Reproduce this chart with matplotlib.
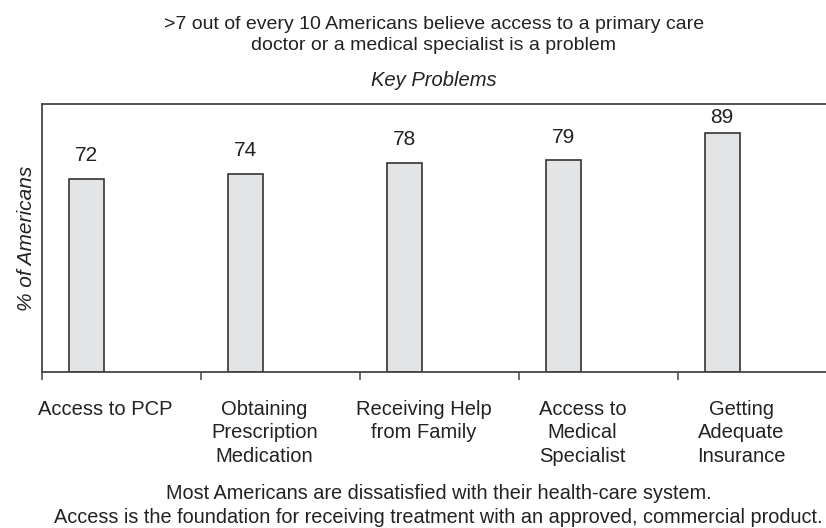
import matplotlib.pyplot as plt
import numpy as np

plt.rcParams['font.family'] = ['Liberation Sans', 'DejaVu Sans']

categories = ["Access to PCP", "Obtaining\nPrescription\nMedication", "Receiving Help\nfrom Family",
              "Access to\nMedical\nSpecialist", "Getting\nAdequate\nInsurance"]
values = [72, 74, 78, 79, 89]

title_lines = ">7 out of every 10 Americans believe access to a primary care\ndoctor or a medical specialist is a problem"
footnote = ("Most Americans are dissatisfied with their health-care system.\n"
            "Access is the foundation for receiving treatment with an approved, commercial product.")

txt = '#222222'
fig = plt.figure(figsize=(8.26, 5.28), dpi=100)
ax = fig.add_axes([42 / 826, (528 - 372) / 528, 795 / 826, 268 / 528])

x = np.arange(len(values))
ax.bar(x - 0.223, values, width=0.22, color='#e3e4e6', edgecolor='#333333', linewidth=1.2)
# value labels sit above the bars, but are kept under the top frame line
for xi, v in zip(x, values):
    ax.text(xi - 0.223, min(v + 8.6, 95), str(v), ha='center', va='center', fontsize=15, color=txt)

ax.set_xlim(-0.5, 4.5)
ax.set_ylim(0, 100)
ax.set_yticks([])
ax.set_xticks(np.arange(-0.5, 4.5, 1))
ax.set_xticklabels([])
ax.tick_params(axis='x', which='major', length=6, width=1.1, color='#444444', direction='out')
ax.set_xticks(x - 0.1, minor=True)
ax.set_xticklabels(categories, minor=True, fontsize=14.5, color=txt, linespacing=1.3)
ax.tick_params(axis='x', which='minor', length=0, pad=20)

for s in ['left', 'top', 'bottom']:
    ax.spines[s].set_color('#444444')
    ax.spines[s].set_linewidth(1.3)
ax.spines['right'].set_visible(False)

ax.set_ylabel("% of Americans", fontsize=15, style='italic', color=txt, labelpad=4)

fig.text(0.525, 0.934, title_lines, ha='center', va='center', fontsize=14, color=txt, linespacing=1.29)
fig.text(0.525, 0.847, "Key Problems", ha='center', va='center', fontsize=14.5, style='italic', color=txt)
fig.text(0.531, 0.042, footnote, ha='center', va='center', fontsize=14.3, color=txt, linespacing=1.35)

plt.savefig("out.png", dpi=100)
